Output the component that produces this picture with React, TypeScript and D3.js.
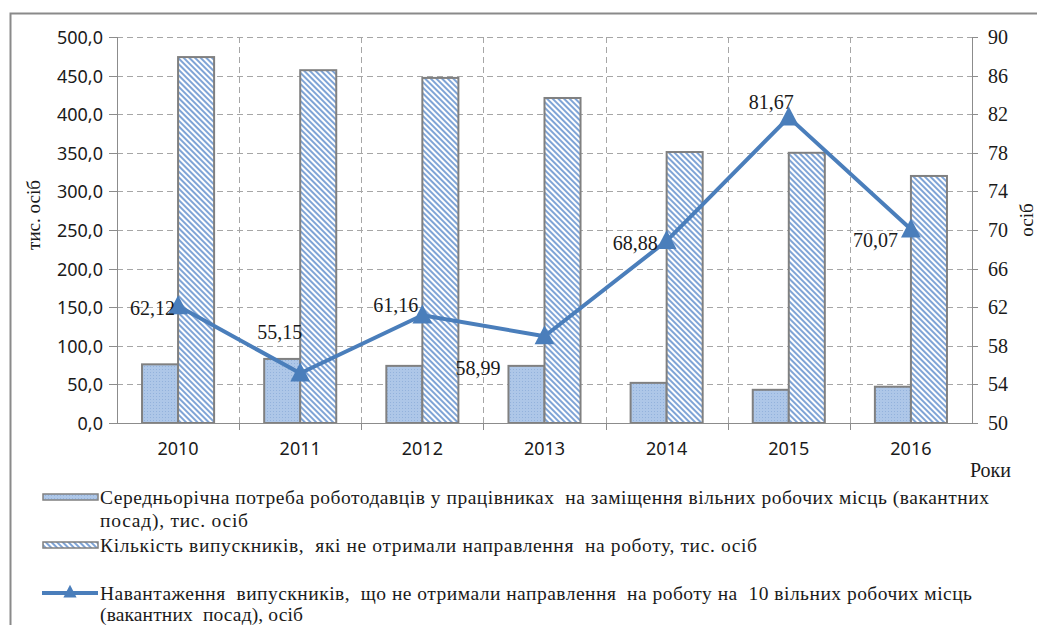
import { useEffect, useRef } from "react";
import { select, scaleLinear, scaleBand, line } from "d3";

// data
const years = ["2010", "2011", "2012", "2013", "2014", "2015", "2016"];
const vacancies = [76, 83, 74, 74, 52, 43, 47];
const graduatesWithoutPlacement = [474, 457, 447, 421, 351, 350, 320];
const loadPer10 = [62.12, 55.15, 61.16, 58.99, 68.88, 81.67, 70.07];
const loadLabels = ["62,12", "55,15", "61,16", "58,99", "68,88", "81,67", "70,07"];
const leftTicks = [0, 50, 100, 150, 200, 250, 300, 350, 400, 450, 500];
const rightTicks = [50, 54, 58, 62, 66, 70, 74, 78, 82, 86, 90];

const legendLines = [
  "Середньорічна потреба роботодавців у працівниках  на заміщення вільних робочих місць (вакантних",
  "посад), тис. осіб",
  "Кількість випускників,  які не отримали направлення  на роботу, тис. осіб",
  "Навантаження  випускників,  що не отримали направлення  на роботу на  10 вільних робочих місць",
  "(вакантних  посад), осіб",
];

// label placement relative to each point (dx to text end, dy to text centre)
const labelOffsets = [
  [-3, 2], [2, -41], [-4, -10], [-44, 32], [-9, 2], [5, -15], [-13, 11],
];
// legend line layout: y centre and rendered width
const legendY = [497, 520, 545, 593, 614];
const legendWidths = [889, 148, 657, 872, 203];

const W = 1037;
const H = 625;
const left = 117;
const right = 972;
const top = 37;
const bottom = 423;
const serif = "Liberation Serif, DejaVu Serif, Times New Roman, serif";
const sans = "Noto Sans, Open Sans, sans-serif";
const lineColor = "#4a7ebb";
const gridColor = "#a6a6a6";
const axisColor = "#8c8c8c";
const textColor = "#1a1a1a";

export default function App() {
  const ref = useRef<SVGSVGElement>(null);

  useEffect(() => {
    if (!ref.current) return;
    const svg = select(ref.current);
    svg.selectAll("*").remove();

    const defs = svg.append("defs");
    const dots = defs
      .append("pattern")
      .attr("id", "dots")
      .attr("patternUnits", "userSpaceOnUse")
      .attr("width", 3)
      .attr("height", 3);
    dots.append("rect").attr("width", 3).attr("height", 3).attr("fill", "#aec7e8");
    dots.append("rect").attr("width", 1).attr("height", 1).attr("fill", "#93b2dc");

    const stripes = defs
      .append("pattern")
      .attr("id", "stripes")
      .attr("patternUnits", "userSpaceOnUse")
      .attr("width", 4)
      .attr("height", 4)
      .attr("patternTransform", "rotate(-45)");
    stripes.append("rect").attr("width", 4).attr("height", 4).attr("fill", "#ffffff");
    stripes.append("rect").attr("width", 2).attr("height", 4).attr("fill", "#7fa4d6");

    const x = scaleBand<string>().domain(years).range([left, right]).padding(0);
    const yL = scaleLinear().domain([0, 500]).range([bottom, top]);
    const yR = scaleLinear().domain([50, 90]).range([bottom, top]);
    const bw = x.bandwidth();
    const barW = bw * 0.295;

    // chart frame (only left and top edges are visible)
    svg
      .append("path")
      .attr("d", `M10.5,${H + 5} V13.5 H${W + 5}`)
      .attr("fill", "none")
      .attr("stroke", "#8a8a8a")
      .attr("stroke-width", 2);

    // horizontal grid
    leftTicks.forEach((t) => {
      if (t === 0) return;
      svg
        .append("line")
        .attr("x1", left)
        .attr("x2", right)
        .attr("y1", Math.round(yL(t)) + 0.5)
        .attr("y2", Math.round(yL(t)) + 0.5)
        .attr("stroke", gridColor)
        .attr("stroke-dasharray", "6,4");
    });
    // vertical grid at category boundaries
    years.slice(1).forEach((yr) => {
      const gx = Math.round(x(yr)!) + 0.5;
      svg
        .append("line")
        .attr("x1", gx)
        .attr("x2", gx)
        .attr("y1", top)
        .attr("y2", bottom)
        .attr("stroke", gridColor)
        .attr("stroke-dasharray", "6,4");
      svg
        .append("line")
        .attr("x1", gx)
        .attr("x2", gx)
        .attr("y1", bottom)
        .attr("y2", bottom + 7)
        .attr("stroke", axisColor);
    });

    // bars
    years.forEach((yr, i) => {
      const cx = x(yr)! + bw / 2;
      svg
        .append("rect")
        .attr("x", cx - barW)
        .attr("y", yL(vacancies[i]))
        .attr("width", barW)
        .attr("height", bottom - yL(vacancies[i]))
        .attr("fill", "url(#dots)")
        .attr("stroke", "#808080")
        .attr("stroke-width", 2);
      svg
        .append("rect")
        .attr("x", cx)
        .attr("y", yL(graduatesWithoutPlacement[i]))
        .attr("width", barW)
        .attr("height", bottom - yL(graduatesWithoutPlacement[i]))
        .attr("fill", "url(#stripes)")
        .attr("stroke", "#808080")
        .attr("stroke-width", 2);
    });

    // axes
    svg
      .append("line")
      .attr("x1", left + 0.5)
      .attr("x2", left + 0.5)
      .attr("y1", top)
      .attr("y2", bottom)
      .attr("stroke", axisColor);
    svg
      .append("line")
      .attr("x1", right + 0.5)
      .attr("x2", right + 0.5)
      .attr("y1", top)
      .attr("y2", bottom)
      .attr("stroke", axisColor);
    svg
      .append("line")
      .attr("x1", left - 8)
      .attr("x2", right + 6)
      .attr("y1", bottom + 0.5)
      .attr("y2", bottom + 0.5)
      .attr("stroke", axisColor);

    leftTicks.forEach((t) => {
      const ty = Math.round(yL(t)) + 0.5;
      svg
        .append("line")
        .attr("x1", left - 8)
        .attr("x2", left)
        .attr("y1", ty)
        .attr("y2", ty)
        .attr("stroke", axisColor);
      svg
        .append("text")
        .attr("x", 103)
        .attr("y", ty)
        .attr("dy", "0.36em")
        .attr("text-anchor", "end")
        .attr("font-family", sans)
        .attr("font-size", 18)
        .attr("fill", textColor)
        .text(t.toFixed(1).replace(".", ","));
    });

    rightTicks.forEach((t) => {
      const ty = Math.round(yR(t)) + 0.5;
      svg
        .append("line")
        .attr("x1", right)
        .attr("x2", right + 6)
        .attr("y1", ty)
        .attr("y2", ty)
        .attr("stroke", axisColor);
      svg
        .append("text")
        .attr("x", 988)
        .attr("y", ty)
        .attr("dy", "0.34em")
        .attr("font-family", serif)
        .attr("font-size", 20)
        .attr("fill", textColor)
        .text(String(t));
    });

    years.forEach((yr) => {
      svg
        .append("text")
        .attr("x", x(yr)! + bw / 2)
        .attr("y", 449)
        .attr("dy", "0.36em")
        .attr("text-anchor", "middle")
        .attr("font-family", sans)
        .attr("font-size", 18)
        .attr("fill", textColor)
        .text(yr);
    });

    // axis titles
    svg
      .append("text")
      .attr("transform", "translate(33,215) rotate(-90)")
      .attr("dy", "0.35em")
      .attr("text-anchor", "middle")
      .attr("font-family", serif)
      .attr("font-size", 19)
      .attr("fill", textColor)
      .text("тис. осіб");
    svg
      .append("text")
      .attr("transform", "translate(1026,220) rotate(-90)")
      .attr("dy", "0.35em")
      .attr("text-anchor", "middle")
      .attr("font-family", serif)
      .attr("font-size", 19)
      .attr("fill", textColor)
      .text("осіб");
    svg
      .append("text")
      .attr("x", 1011)
      .attr("y", 470)
      .attr("dy", "0.35em")
      .attr("text-anchor", "end")
      .attr("font-family", serif)
      .attr("font-size", 20)
      .attr("fill", textColor)
      .text("Роки");

    // line series
    const pts = years.map((yr, i) => ({ x: x(yr)! + bw / 2, y: yR(loadPer10[i]) }));
    const l = line<{ x: number; y: number }>()
      .x((d) => d.x)
      .y((d) => d.y);
    svg
      .append("path")
      .datum(pts)
      .attr("d", l)
      .attr("fill", "none")
      .attr("stroke", lineColor)
      .attr("stroke-width", 4)
      .attr("stroke-linejoin", "round");

    const tri = (cx: number, cy: number, s: number) =>
      `M${cx},${cy - s * 0.6} L${cx + s * 0.55},${cy + s * 0.45} L${cx - s * 0.55},${cy + s * 0.45} Z`;
    pts.forEach((p) => {
      svg.append("path").attr("d", tri(p.x, p.y, 18)).attr("fill", lineColor);
    });

    pts.forEach((p, i) => {
      svg
        .append("text")
        .attr("x", p.x + labelOffsets[i][0])
        .attr("y", p.y + labelOffsets[i][1])
        .attr("dy", "0.35em")
        .attr("text-anchor", "end")
        .attr("font-family", serif)
        .attr("font-size", 20)
        .attr("fill", textColor)
        .text(loadLabels[i]);
    });

    // legend
    svg
      .append("rect")
      .attr("x", 43)
      .attr("y", 494)
      .attr("width", 55)
      .attr("height", 6)
      .attr("fill", "url(#dots)")
      .attr("stroke", "#808080")
      .attr("stroke-width", 1.5);
    svg
      .append("rect")
      .attr("x", 43)
      .attr("y", 542)
      .attr("width", 55)
      .attr("height", 6)
      .attr("fill", "url(#stripes)")
      .attr("stroke", "#808080")
      .attr("stroke-width", 1.5);
    svg
      .append("line")
      .attr("x1", 42)
      .attr("x2", 98)
      .attr("y1", 593)
      .attr("y2", 593)
      .attr("stroke", lineColor)
      .attr("stroke-width", 4);
    svg.append("path").attr("d", tri(70, 592, 12)).attr("fill", lineColor);

    legendLines.forEach((t, i) => {
      svg
        .append("text")
        .attr("x", 100)
        .attr("y", legendY[i])
        .attr("dy", "0.35em")
        .attr("font-family", serif)
        .attr("font-size", 19.5)
        .attr("textLength", legendWidths[i])
        .attr("lengthAdjust", "spacing")
        .attr("fill", textColor)
        .style("white-space", "pre")
        .text(t);
    });
  }, []);

  return (
    <svg
      ref={ref}
      width={W}
      height={H}
      style={{ position: "absolute", left: 0, top: 0, background: "#fff" }}
    />
  );
}
